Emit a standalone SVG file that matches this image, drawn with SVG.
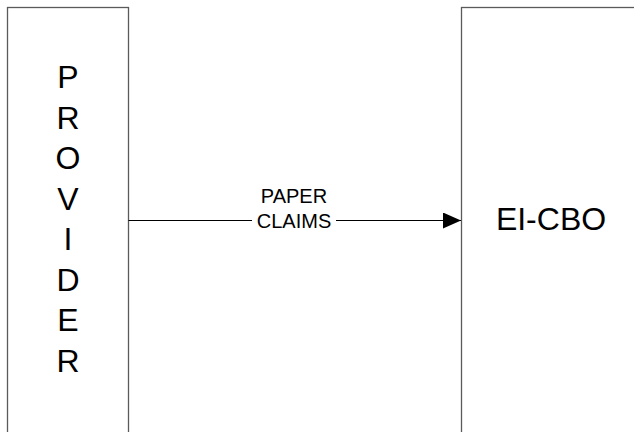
<svg xmlns="http://www.w3.org/2000/svg" width="634" height="432" viewBox="0 0 634 432">
<style>
.box{fill:#fff;stroke:#5a5a5a;stroke-width:1.3}
.big{font-family:"Liberation Sans",Arial,sans-serif;font-size:32px;fill:#000;text-anchor:middle}
.lbl{font-family:"Liberation Sans",Arial,sans-serif;font-size:20px;fill:#000;text-anchor:middle}
.edge{stroke:#000;stroke-width:1;fill:none}
</style>
<defs>
<marker id="arr" markerWidth="18" markerHeight="16" refX="18" refY="8" orient="auto" markerUnits="userSpaceOnUse">
<path d="M0,0 L18,8 L0,16 Z" fill="#000"/>
</marker>
</defs>
<g id="provider">
<rect class="box" x="7.5" y="7.5" width="121" height="440"/>
<text class="big" x="68" y="88">P</text>
<text class="big" x="68" y="128.5">R</text>
<text class="big" x="68" y="169">O</text>
<text class="big" x="68" y="209.5">V</text>
<text class="big" x="68" y="250">I</text>
<text class="big" x="68" y="290.5">D</text>
<text class="big" x="68" y="331">E</text>
<text class="big" x="68" y="371.5">R</text>
</g>
<g id="eicbo">
<rect class="box" x="461.5" y="7.5" width="200" height="440"/>
<text class="big" x="551" y="230">EI-CBO</text>
</g>
<g id="connectors">
<line class="edge" x1="128.5" y1="220.5" x2="461" y2="220.5" marker-end="url(#arr)"/>
<rect x="252" y="208" width="84" height="26" fill="#fff"/>
<text class="lbl" x="294" y="203">PAPER</text>
<text class="lbl" x="294" y="228">CLAIMS</text>
</g>
</svg>
